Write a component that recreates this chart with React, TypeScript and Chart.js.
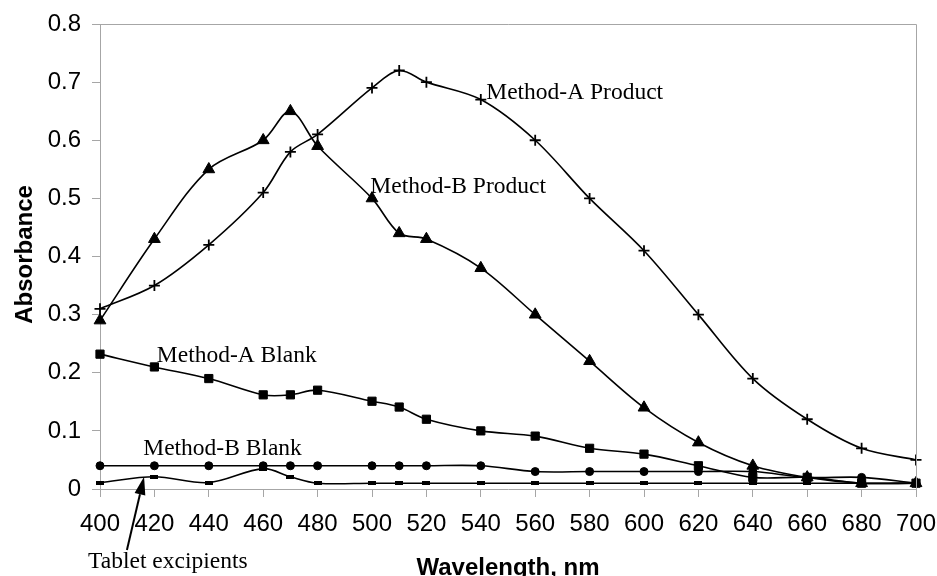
import React, { useEffect, useRef } from "react";
import { Chart, registerables } from "chart.js";

Chart.register(...registerables);

// ---- Data ----
const wavelengths = [400, 420, 440, 460, 470, 480, 500, 510, 520, 540, 560, 580, 600, 620, 640, 660, 680, 700];
const methodAProduct = [0.31, 0.35, 0.42, 0.51, 0.58, 0.61, 0.69, 0.72, 0.70, 0.67, 0.60, 0.50, 0.41, 0.30, 0.19, 0.12, 0.07, 0.05];
const methodBProduct = [0.29, 0.43, 0.55, 0.60, 0.65, 0.59, 0.50, 0.44, 0.43, 0.38, 0.30, 0.22, 0.14, 0.08, 0.04, 0.02, 0.01, 0.01];
const methodABlank = [0.232, 0.21, 0.19, 0.162, 0.162, 0.17, 0.151, 0.141, 0.12, 0.10, 0.091, 0.07, 0.06, 0.04, 0.02, 0.02, 0.01, 0.01];
const methodBBlank = [0.04, 0.04, 0.04, 0.04, 0.04, 0.04, 0.04, 0.04, 0.04, 0.04, 0.03, 0.03, 0.03, 0.03, 0.03, 0.02, 0.02, 0.01];
const tabletExcipients = [0.011, 0.021, 0.011, 0.035, 0.021, 0.01, 0.01, 0.01, 0.01, 0.01, 0.01, 0.01, 0.01, 0.01, 0.01, 0.01, 0.01, 0.01];

const xTickLabels = ["400", "420", "440", "460", "480", "500", "520", "540", "560", "580", "600", "620", "640", "660", "680", "700"];
const yTickLabels = ["0", "0.1", "0.2", "0.3", "0.4", "0.5", "0.6", "0.7", "0.8"];

const xAxisTitle = "Wavelength, nm";
const yAxisTitle = "Absorbance";

// in-plot text labels, anchored in data units
const seriesLabels = [
  { text: "Method-A Product", x: 542, y: 0.671 },
  { text: "Method-B Product", x: 499.4, y: 0.51 },
  { text: "Method-A Blank", x: 420.9, y: 0.219 },
  { text: "Method-B Blank", x: 415.9, y: 0.0585 },
  { text: "Tablet excipients", x: 395.6, y: -0.1364 },
];
const arrowTail = { x: 409.9, y: -0.105 };
const arrowTip = { x: 416.2, y: 0.021 };

const toPoints = (ys: number[]) => wavelengths.map((x, i) => ({ x, y: ys[i] }));

const AXIS_GRAY = "#a6a6a6";

function makeDashMarker(): HTMLCanvasElement {
  const c = document.createElement("canvas");
  c.width = 8;
  c.height = 4;
  const g = c.getContext("2d");
  if (g) {
    g.fillStyle = "#000";
    g.fillRect(0, 0, 8, 4);
  }
  return c;
}

export default function App() {
  const canvasRef = useRef<HTMLCanvasElement | null>(null);

  useEffect(() => {
    const canvas = canvasRef.current;
    if (!canvas) return;

    const overlay = {
      id: "overlay",
      afterDraw(chart: any) {
        const { ctx, chartArea, scales } = chart;
        const xs = scales.x;
        const ys = scales.y;
        ctx.save();
        // plot-area border (top and right)
        ctx.strokeStyle = AXIS_GRAY;
        ctx.lineWidth = 1;
        ctx.beginPath();
        ctx.moveTo(chartArea.left, chartArea.top + 0.5);
        ctx.lineTo(chartArea.right + 0.5, chartArea.top + 0.5);
        ctx.lineTo(chartArea.right + 0.5, chartArea.bottom);
        ctx.stroke();

        // series labels
        ctx.fillStyle = "#000";
        ctx.font = '23.5px "Liberation Serif"';
        ctx.textAlign = "left";
        ctx.textBaseline = "alphabetic";
        for (const l of seriesLabels) {
          ctx.fillText(l.text, xs.getPixelForValue(l.x), ys.getPixelForValue(l.y));
        }

        // arrow
        const tx = xs.getPixelForValue(arrowTail.x);
        const ty = ys.getPixelForValue(arrowTail.y);
        const hx = xs.getPixelForValue(arrowTip.x);
        const hy = ys.getPixelForValue(arrowTip.y);
        const ang = Math.atan2(hy - ty, hx - tx);
        const headLen = 18;
        const headHalf = 5.5;
        const bx = hx - headLen * Math.cos(ang);
        const by = hy - headLen * Math.sin(ang);
        ctx.strokeStyle = "#000";
        ctx.lineWidth = 2;
        ctx.beginPath();
        ctx.moveTo(tx, ty);
        ctx.lineTo(bx, by);
        ctx.stroke();
        ctx.beginPath();
        ctx.moveTo(hx, hy);
        ctx.lineTo(bx + headHalf * Math.sin(ang), by - headHalf * Math.cos(ang));
        ctx.lineTo(bx - headHalf * Math.sin(ang), by + headHalf * Math.cos(ang));
        ctx.closePath();
        ctx.fill();

        // axis titles
        ctx.font = 'bold 24px "Liberation Sans"';
        ctx.textAlign = "center";
        ctx.textBaseline = "alphabetic";
        ctx.fillText(xAxisTitle, (chartArea.left + chartArea.right) / 2, 575);
        ctx.translate(32, (chartArea.top + chartArea.bottom) / 2 - 2);
        ctx.rotate(-Math.PI / 2);
        ctx.fillText(yAxisTitle, 0, 0);
        ctx.restore();
      },
    };

    const common = {
      borderColor: "#000",
      backgroundColor: "#000",
      borderWidth: 1.6,
      tension: 0.33,
      pointBorderColor: "#000",
      pointBackgroundColor: "#000",
      pointHoverRadius: 0,
      fill: false,
      clip: false,
    };

    const chart = new Chart(canvas, {
      type: "line",
      data: {
        datasets: [
          { ...common, label: "Tablet excipients", data: toPoints(tabletExcipients), pointStyle: makeDashMarker(), pointRadius: 4 },
          { ...common, label: "Method-B Blank", data: toPoints(methodBBlank), pointStyle: "circle", pointRadius: 4, pointBorderWidth: 1 },
          { ...common, label: "Method-A Blank", data: toPoints(methodABlank), pointStyle: "rect", pointRadius: 5.8, pointBorderWidth: 1 },
          { ...common, label: "Method-B Product", data: toPoints(methodBProduct), pointStyle: "triangle", pointRadius: 6.8, pointBorderWidth: 1 },
          { ...common, label: "Method-A Product", data: toPoints(methodAProduct), pointStyle: "cross", pointRadius: 5.5, pointBorderWidth: 1.8 },
        ],
      } as any,
      options: {
        responsive: false,
        animation: false,
        devicePixelRatio: 1,
        layout: { padding: { top: 24, right: 21, left: 0, bottom: 0 } },
        plugins: { legend: { display: false }, tooltip: { enabled: false }, title: { display: false } },
        events: [],
        scales: {
          x: {
            type: "linear",
            min: 400,
            max: 700,
            afterFit: (s: any) => {
              s.height = 87;
              s.paddingLeft = 0;
              s.paddingRight = 0;
            },
            afterBuildTicks: (s: any) => {
              s.ticks = xTickLabels.map((t) => ({ value: Number(t) }));
            },
            ticks: {
              callback: (v: any) => xTickLabels.find((t) => Number(t) === v) ?? "",
              color: "#000",
              font: { family: "Liberation Sans", size: 24 },
              padding: 13,
              maxRotation: 0,
              autoSkip: false,
            },
            grid: { display: true, drawOnChartArea: false, drawTicks: true, tickLength: 8, color: AXIS_GRAY, lineWidth: 1 },
            border: { display: true, color: AXIS_GRAY, width: 1 },
          },
          y: {
            type: "linear",
            min: 0,
            max: 0.8,
            afterFit: (s: any) => {
              s.width = 100;
              s.paddingTop = 0;
              s.paddingBottom = 0;
            },
            afterBuildTicks: (s: any) => {
              s.ticks = yTickLabels.map((t) => ({ value: Number(t) }));
            },
            ticks: {
              callback: (v: any) => yTickLabels.find((t) => Math.abs(Number(t) - v) < 1e-9) ?? "",
              color: "#000",
              font: { family: "Liberation Sans", size: 24 },
              padding: 11,
              autoSkip: false,
            },
            grid: { display: true, drawOnChartArea: false, drawTicks: true, tickLength: 8, color: AXIS_GRAY, lineWidth: 1 },
            border: { display: true, color: AXIS_GRAY, width: 1 },
          },
        },
      } as any,
      plugins: [overlay],
    });

    return () => chart.destroy();
  }, []);

  return (
    <div style={{ position: "fixed", left: 0, top: 0, width: 937, height: 576, background: "#fff" }}>
      <canvas ref={canvasRef} width={937} height={576} style={{ display: "block", width: 937, height: 576 }} />
    </div>
  );
}
